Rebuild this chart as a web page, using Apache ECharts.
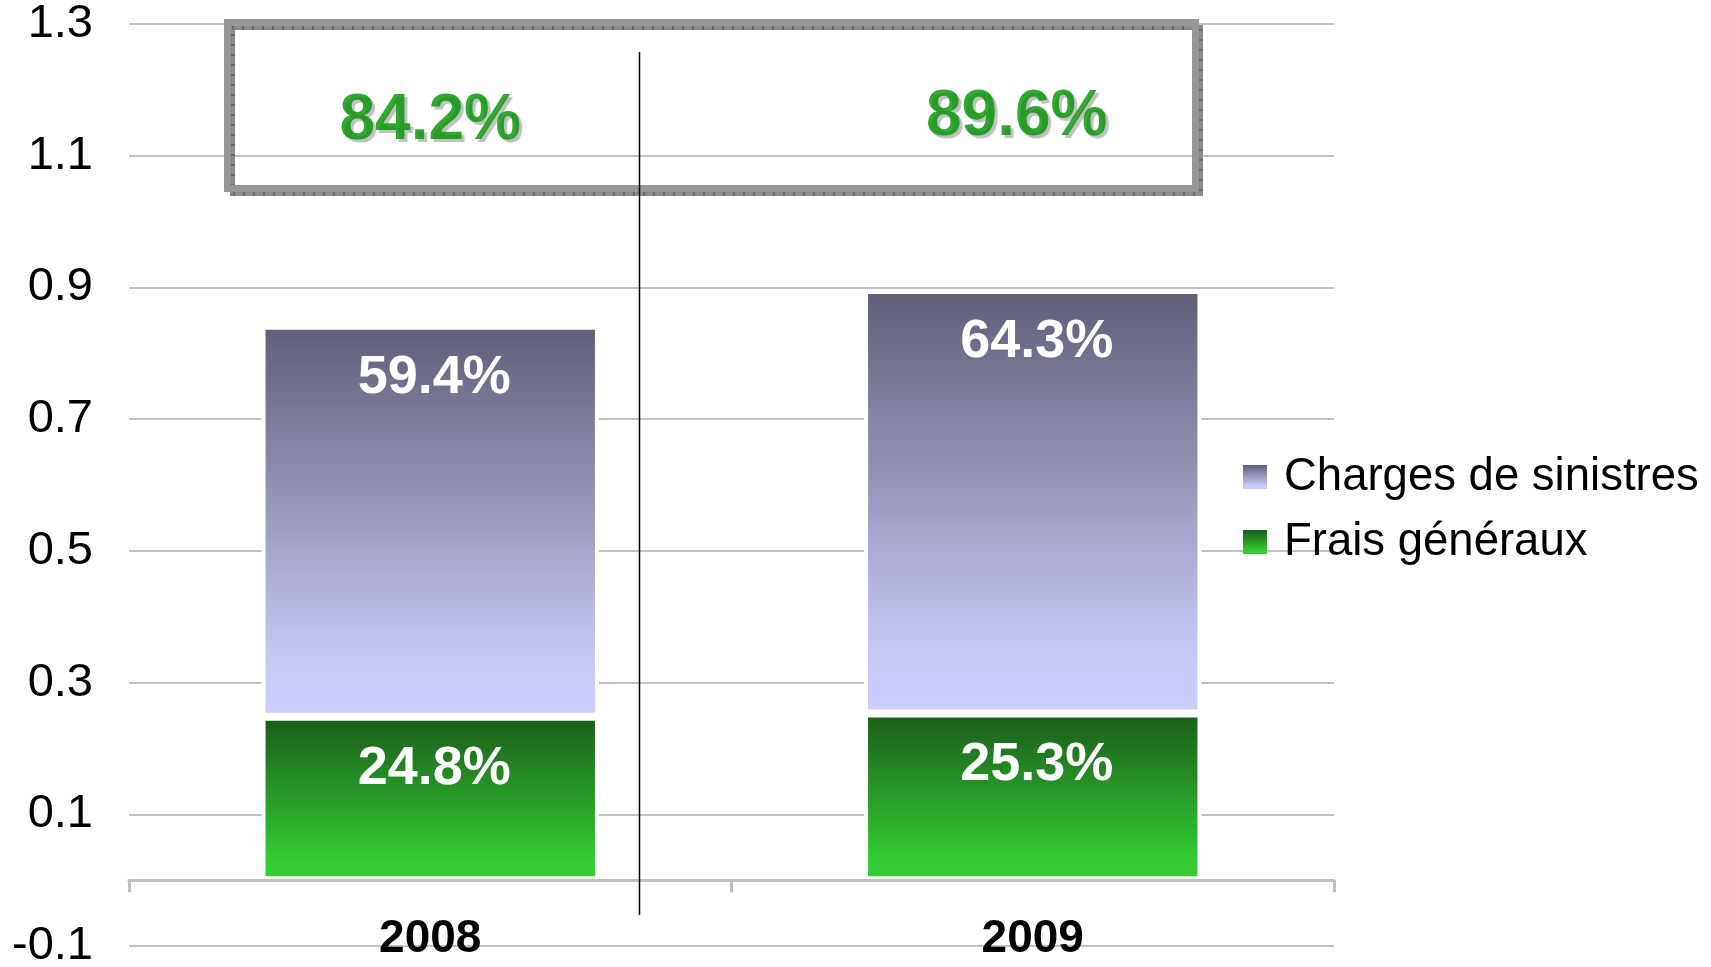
<!DOCTYPE html>
<html>
<head>
<meta charset="utf-8">
<script src="https://cdn.jsdelivr.net/npm/echarts@6/dist/echarts.min.js"></script>
<style>
html,body{margin:0;padding:0;background:#fff;}
#chart{width:1711px;height:967px;}
</style>
</head>
<body>
<div id="chart"></div>
<script>
// ---- data ----
const categories = ['2008', '2009'];
const seriesNames = ['Charges de sinistres', 'Frais généraux'];
const chargesSinistres = [0.594, 0.643];
const fraisGeneraux = [0.248, 0.253];
const yMin = -0.1;
const yMax = 1.3;
const yStep = 0.1;

const totals = categories.map((c, i) => chargesSinistres[i] + fraisGeneraux[i]);
const pct = v => (v * 100).toFixed(1) + '%';

const FONT = '"Liberation Sans", Arial, sans-serif';
const TOTAL_LABEL_Y = 1.152;

const purpleGrad = new echarts.graphic.LinearGradient(0, 0, 0, 1, [
  {offset: 0, color: '#5F5E78'},
  {offset: 0.5, color: '#9C9CC2'},
  {offset: 0.85, color: '#C8C8F8'},
  {offset: 1, color: '#CCCCFF'}
]);
const greenGrad = new echarts.graphic.LinearGradient(0, 0, 0, 1, [
  {offset: 0, color: '#1A5C1A'},
  {offset: 0.88, color: '#33CC33'},
  {offset: 1, color: '#33CC33'}
]);

const barLabel = {
  show: true,
  position: 'insideTop',
  distance: 25,
  offset: [4, 0],
  color: '#fff',
  fontFamily: FONT,
  fontWeight: 'bold',
  fontSize: 54,
  formatter: p => pct(p.value)
};

const boxGraphics = [
  {type: 'rect', z: 10, silent: true,
   shape: {x: 232.5, y: 27.5, width: 968, height: 166},
   style: {fill: 'none', stroke: '#8a8a8a', lineWidth: 5}},
  {type: 'rect', z: 11, silent: true,
   shape: {x: 232.5, y: 27.5, width: 968, height: 166},
   style: {fill: 'none', stroke: '#4a4a4a', lineWidth: 5, lineDash: [1, 9]}},
  {type: 'rect', z: 12, silent: true,
   shape: {x: 227.5, y: 22.5, width: 968, height: 166},
   style: {fill: 'none', stroke: '#979797', lineWidth: 7}},
  {type: 'line', z: 13, silent: true,
   shape: {x1: 639.5, y1: 52, x2: 639.5, y2: 915},
   style: {stroke: '#000', lineWidth: 1.5}}
];

const chart = echarts.init(document.getElementById('chart'), null, {renderer: 'canvas'});
chart.setOption({
  animation: false,
  backgroundColor: '#fff',
  grid: {
    left: 129, right: 377, top: 24, bottom: 21, containLabel: false,
    outerBounds: {left: -300, top: -300, right: -300, bottom: -300}
  },
  legend: {
    data: seriesNames,
    orient: 'vertical',
    left: 1238,
    top: 449,
    itemWidth: 24,
    itemHeight: 24,
    itemGap: 19,
    icon: 'rect',
    itemStyle: {borderWidth: 0},
    textStyle: {fontFamily: FONT, fontSize: 45.5, color: '#000', padding: [0, 0, 0, 12]}
  },
  xAxis: {
    type: 'category',
    data: categories,
    z: 5,
    axisLine: {onZero: true, lineStyle: {color: '#C0C0C0', width: 3}},
    axisTick: {show: true, length: 12, lineStyle: {color: '#C0C0C0', width: 3}},
    axisLabel: {show: false},
    splitLine: {show: false}
  },
  yAxis: {
    type: 'value',
    min: yMin,
    max: yMax,
    interval: yStep,
    axisLine: {show: false},
    axisTick: {show: false},
    axisLabel: {
      fontFamily: FONT, fontSize: 47, color: '#000', margin: 36,
      formatter: v => (Math.abs(Math.round(v * 10)) % 2 === 1) ? v.toFixed(1) : ''
    },
    splitLine: {show: true, lineStyle: {color: ['#C0C0C0', 'rgba(0,0,0,0)'], width: 2}}
  },
  series: [
    {
      name: 'Frais généraux',
      type: 'bar',
      stack: 'total',
      barWidth: '56%',
      data: fraisGeneraux,
      itemStyle: {color: greenGrad, borderColor: '#fff', borderWidth: 4},
      label: barLabel
    },
    {
      name: 'Charges de sinistres',
      type: 'bar',
      stack: 'total',
      data: chargesSinistres,
      itemStyle: {color: purpleGrad, borderColor: '#fff', borderWidth: 4},
      label: barLabel
    },
    {
      name: 'total',
      type: 'scatter',
      symbol: 'circle',
      symbolSize: 1,
      silent: true,
      z: 20,
      itemStyle: {color: 'rgba(255,255,255,0)'},
      data: totals.map((t, i) => ({
        value: [i, TOTAL_LABEL_Y],
        label: {offset: i === 1 ? [-16, -4] : [0, 0]}
      })),
      label: {
        show: true,
        position: 'inside',
        fontFamily: FONT,
        fontWeight: 'bold',
        fontSize: 64,
        color: '#009400',
        textShadowColor: '#B0B0B0',
        textShadowOffsetX: 3,
        textShadowOffsetY: 3,
        textShadowBlur: 1,
        formatter: p => pct(totals[p.dataIndex])
      }
    }
  ],
  graphic: boxGraphics
});

// category labels under the zero axis line, positioned through the axes
const zeroY = chart.convertToPixel({yAxisIndex: 0}, 0);
const catLabels = categories.map(c => ({
  type: 'text', silent: true, z: 15,
  x: chart.convertToPixel({xAxisIndex: 0}, c),
  y: zeroY + 59,
  style: {
    text: c, fill: '#000', fontFamily: FONT, fontWeight: 'bold', fontSize: 46,
    align: 'center', verticalAlign: 'middle'
  }
}));
chart.setOption({graphic: boxGraphics.concat(catLabels)}, {replaceMerge: ['graphic']});
</script>
</body>
</html>
